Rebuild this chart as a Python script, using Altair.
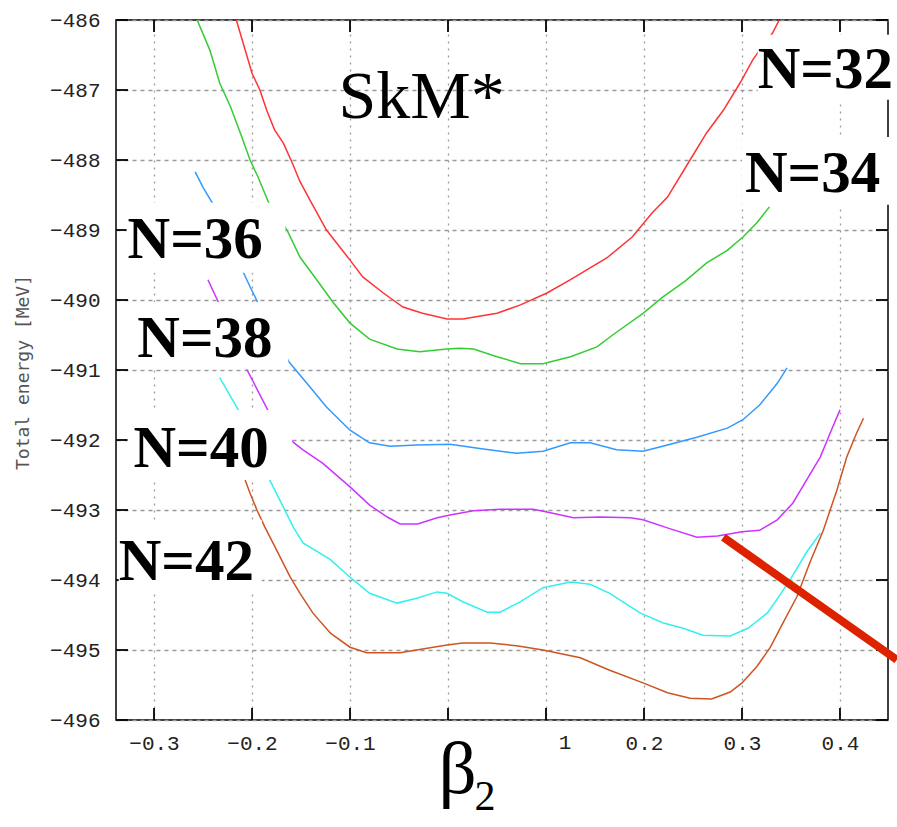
import altair as alt
import pandas as pd

# ---------------- data (beta2, total energy in MeV) ----------------
series_names = ["N=32", "N=34", "N=36", "N=38", "N=40", "N=42"]
series_colors = ["#ff3333", "#33cc33", "#3399ff", "#cc33ff", "#33f0f0", "#cc5522"]

red_x = [-0.216, -0.212, -0.200, -0.192, -0.185, -0.177, -0.168, -0.159, -0.151, -0.141, -0.124, -0.100,
         -0.087, -0.066, -0.046, -0.026, -0.001, 0.015, 0.050, 0.074, 0.101, 0.125, 0.162, 0.188, 0.208,
         0.224, 0.247, 0.264, 0.281, 0.298, 0.311, 0.318, 0.331, 0.338]
red_y = [-486.00, -486.19, -486.76, -487.00, -487.29, -487.57, -487.76, -488.04, -488.31, -488.57, -489.00,
         -489.43, -489.67, -489.90, -490.10, -490.19, -490.27, -490.27, -490.19, -490.07, -489.90, -489.71,
         -489.40, -489.10, -488.76, -488.53, -488.00, -487.61, -487.29, -486.90, -486.57, -486.43, -486.19,
         -486.00]

green_x = [-0.256, -0.243, -0.233, -0.222, -0.212, -0.202, -0.194, -0.183, -0.164, -0.151, -0.134, -0.117,
           -0.100, -0.080, -0.052, -0.029, -0.001, 0.012, 0.026, 0.050, 0.074, 0.097, 0.125, 0.152, 0.168,
           0.199, 0.219, 0.242, 0.264, 0.285, 0.301, 0.315, 0.328]
green_y = [-486.00, -486.43, -486.90, -487.24, -487.61, -488.00, -488.24, -488.61, -489.01, -489.39, -489.71,
           -490.04, -490.33, -490.56, -490.70, -490.74, -490.70, -490.69, -490.70, -490.81, -490.91, -490.91,
           -490.81, -490.67, -490.50, -490.19, -489.96, -489.73, -489.47, -489.29, -489.10, -488.90, -488.67]

blue_x = [-0.258, -0.250, -0.241, -0.209, -0.202, -0.194, -0.162, -0.144, -0.124, -0.100, -0.080, -0.059,
          -0.032, 0.002, 0.036, 0.070, 0.097, 0.125, 0.145, 0.172, 0.199, 0.219, 0.254, 0.285, 0.301, 0.318,
          0.336, 0.346]
blue_y = [-488.17, -488.39, -488.60, -489.60, -489.81, -490.04, -490.89, -491.19, -491.53, -491.86, -492.04,
          -492.09, -492.07, -492.06, -492.13, -492.19, -492.16, -492.04, -492.04, -492.14, -492.16, -492.09,
          -491.96, -491.83, -491.71, -491.50, -491.19, -490.97]

purple_x = [-0.245, -0.235, -0.205, -0.184, -0.158, -0.148, -0.128, -0.100, -0.080, -0.062, -0.049, -0.031,
            -0.011, 0.002, 0.026, 0.053, 0.087, 0.101, 0.128, 0.155, 0.186, 0.199, 0.227, 0.254, 0.275, 0.300,
            0.318, 0.336, 0.352, 0.366, 0.380, 0.390, 0.400]
purple_y = [-489.71, -490.01, -491.00, -491.57, -492.03, -492.14, -492.33, -492.67, -492.93, -493.10, -493.20,
            -493.20, -493.11, -493.07, -493.01, -492.99, -492.99, -493.03, -493.11, -493.10, -493.11, -493.14,
            -493.27, -493.39, -493.37, -493.31, -493.29, -493.14, -492.90, -492.57, -492.24, -491.90, -491.57]

cyan_x = [-0.233, -0.214, -0.182, -0.168, -0.158, -0.148, -0.120, -0.100, -0.080, -0.052, -0.032, -0.011,
          -0.001, 0.015, 0.040, 0.053, 0.074, 0.097, 0.125, 0.145, 0.165, 0.196, 0.219, 0.240, 0.260, 0.288,
          0.306, 0.326, 0.339, 0.352, 0.366, 0.380]
cyan_y = [-491.11, -491.57, -492.57, -492.96, -493.24, -493.47, -493.71, -493.96, -494.19, -494.33, -494.26,
          -494.17, -494.19, -494.31, -494.46, -494.46, -494.31, -494.11, -494.03, -494.06, -494.19, -494.47,
          -494.61, -494.69, -494.79, -494.80, -494.69, -494.47, -494.21, -493.93, -493.60, -493.33]

orange_x = [-0.207, -0.202, -0.195, -0.187, -0.175, -0.161, -0.151, -0.138, -0.120, -0.100, -0.083, -0.049,
            -0.032, -0.015, -0.001, 0.015, 0.043, 0.070, 0.097, 0.135, 0.165, 0.199, 0.224, 0.247, 0.269,
            0.288, 0.300, 0.315, 0.329, 0.342, 0.356, 0.369, 0.383, 0.397, 0.407, 0.417, 0.424]
orange_y = [-492.57, -492.76, -493.00, -493.24, -493.57, -493.96, -494.19, -494.47, -494.76, -494.96, -495.04,
            -495.04, -495.00, -494.96, -494.93, -494.90, -494.90, -494.94, -495.00, -495.11, -495.29, -495.47,
            -495.61, -495.69, -495.70, -495.60, -495.47, -495.24, -494.96, -494.61, -494.24, -493.76, -493.29,
            -492.71, -492.24, -491.90, -491.69]

# curve labels (centre x, baseline y) and their white backing boxes
label_text = ["N=32", "N=34", "N=36", "N=38", "N=40", "N=42"]
label_x = [0.385, 0.372, -0.258, -0.248, -0.252, -0.267]
label_y = [-486.97, -488.46, -489.40, -490.81, -492.39, -494.00]
box_x1 = [0.316, 0.300, -0.328, -0.322, -0.327, -0.336]
box_x2 = [0.460, 0.460, -0.166, -0.163, -0.159, -0.190]
box_y1 = [-486.21, -487.67, -488.61, -490.03, -491.57, -493.14]
box_y2 = [-487.14, -488.64, -489.61, -490.99, -492.57, -494.19]

title_text = ["SkM*"]
title_x = [-0.027]
title_y = [-487.40]

# thick red marker line
slash_x = [0.281, 0.458]
slash_y = [-493.39, -495.14]

x_ticks = [-0.3, -0.2, -0.1, 0.0, 0.1, 0.2, 0.3, 0.4]
y_ticks = [-496, -495, -494, -493, -492, -491, -490, -489, -488, -487, -486]
odd_label_x = [0.1]
odd_label = ["1"]

# ---------------- tables ----------------
rows = []
for name, xs, ys in zip(series_names,
                        [red_x, green_x, blue_x, purple_x, cyan_x, orange_x],
                        [red_y, green_y, blue_y, purple_y, cyan_y, orange_y]):
    for xv, yv in zip(xs, ys):
        rows.append({"series": name, "beta": xv, "E": yv})
curves = pd.DataFrame(rows)
labels_df = pd.DataFrame({"label": label_text, "beta": label_x, "E": label_y})
boxes_df = pd.DataFrame({"beta": box_x1, "beta2": box_x2, "E": box_y1, "E2": box_y2})
skm_df = pd.DataFrame({"label": title_text, "beta": title_x, "E": title_y})
slash_df = pd.DataFrame({"beta": slash_x, "E": slash_y})
xt_df = pd.DataFrame({"beta": x_ticks})
yt_df = pd.DataFrame({"E": y_ticks})
odd_df = pd.DataFrame({"beta": odd_label_x, "label": odd_label})
sub_df = pd.DataFrame({"label": ["2"]})

W, H = 772, 700
xscale = alt.Scale(domain=[-0.3388, 0.4490], nice=False, zero=False)
yscale = alt.Scale(domain=[-496, -486], nice=False, zero=False)

x_axis = alt.Axis(values=x_ticks, format=".1f",
                  labelExpr="abs(datum.value) < 1e-6 || abs(datum.value - 0.1) < 1e-6 ? '' : datum.label",
                  grid=True, gridDash=[2, 5], gridColor="#9a9a9a", gridWidth=1.3,
                  domain=False, ticks=False, tickSize=0,
                  labelFont="Liberation Mono", labelFontSize=21, labelColor="#222", labelPadding=12,
                  title="β", titleFont="Liberation Serif", titleFontSize=75, titleFontWeight="normal",
                  titleColor="#000", titleX=341, titleY=72, titleBaseline="alphabetic", titleAlign="center",
                  zindex=0)
y_axis = alt.Axis(values=y_ticks, format="d",
                  grid=True, gridDash=[4, 4], gridColor="#9a9a9a", gridWidth=1.3,
                  domain=False, ticks=False, tickSize=0,
                  labelFont="Liberation Mono", labelFontSize=21, labelColor="#222", labelPadding=16,
                  title="Total energy [MeV]", titleFont="DejaVu Sans Mono", titleFontSize=18,
                  titleFontWeight="normal", titleColor="#555", titleX=-84, titleY=352,
                  titleBaseline="bottom", titleAlign="center", zindex=0)

lines = alt.Chart(curves).mark_line(strokeWidth=1.5, clip=True).encode(
    x=alt.X("beta:Q", scale=xscale, axis=x_axis),
    y=alt.Y("E:Q", scale=yscale, axis=y_axis),
    color=alt.Color("series:N", scale=alt.Scale(domain=series_names, range=series_colors), legend=None),
    detail="series:N",
)

X = alt.X("beta:Q", scale=xscale)
Y = alt.Y("E:Q", scale=yscale)

left_ticks = alt.Chart(yt_df).mark_rule(color="#000", strokeWidth=1.8).encode(
    y=Y, x=alt.value(0), x2=alt.value(12))
right_ticks = alt.Chart(yt_df).mark_rule(color="#000", strokeWidth=1.8).encode(
    y=Y, x=alt.value(W - 12), x2=alt.value(W))
bottom_ticks = alt.Chart(xt_df).mark_rule(color="#000", strokeWidth=1.8).encode(
    x=X, y=alt.value(H - 12), y2=alt.value(H))
top_ticks = alt.Chart(xt_df).mark_rule(color="#000", strokeWidth=1.8).encode(
    x=X, y=alt.value(0), y2=alt.value(12))

boxes = alt.Chart(boxes_df).mark_rect(fill="white", clip=False).encode(
    x=X, x2="beta2:Q", y=Y, y2="E2:Q")

labels = alt.Chart(labels_df).mark_text(font="Liberation Serif", fontSize=59, fontWeight="bold",
                                        align="center", baseline="alphabetic", color="#000",
                                        clip=False).encode(x=X, y=Y, text="label:N")

skm = alt.Chart(skm_df).mark_text(font="Liberation Serif", fontSize=68, fontWeight="normal",
                                  align="center", baseline="alphabetic", color="#000").encode(
    x=X, y=Y, text="label:N")

slash = alt.Chart(slash_df).mark_line(color="#dd2200", strokeWidth=8, strokeCap="butt", clip=False).encode(
    x=X, y=Y)

odd = alt.Chart(odd_df).mark_text(font="Liberation Mono", fontSize=21, color="#222", align="center",
                                  baseline="top", dx=19, clip=False).encode(
    x=X, y=alt.value(H + 12), text="label:N")

sub = alt.Chart(sub_df).mark_text(font="Liberation Serif", fontSize=42, color="#000", align="center",
                                  baseline="alphabetic", clip=False).encode(
    x=alt.value(369), y=alt.value(790), text="label:N")

chart = alt.layer(
    lines, left_ticks, right_ticks, bottom_ticks, top_ticks, boxes, labels, skm, slash, odd, sub
).properties(
    width=W, height=H,
    autosize=alt.AutoSizeParams(type="none"),
    padding={"left": 116, "top": 20, "right": 9, "bottom": 107},
    background="white",
).configure_view(stroke="#000", strokeWidth=1.5)

chart.save("out.html", embed_options={"renderer": "svg", "actions": False})
